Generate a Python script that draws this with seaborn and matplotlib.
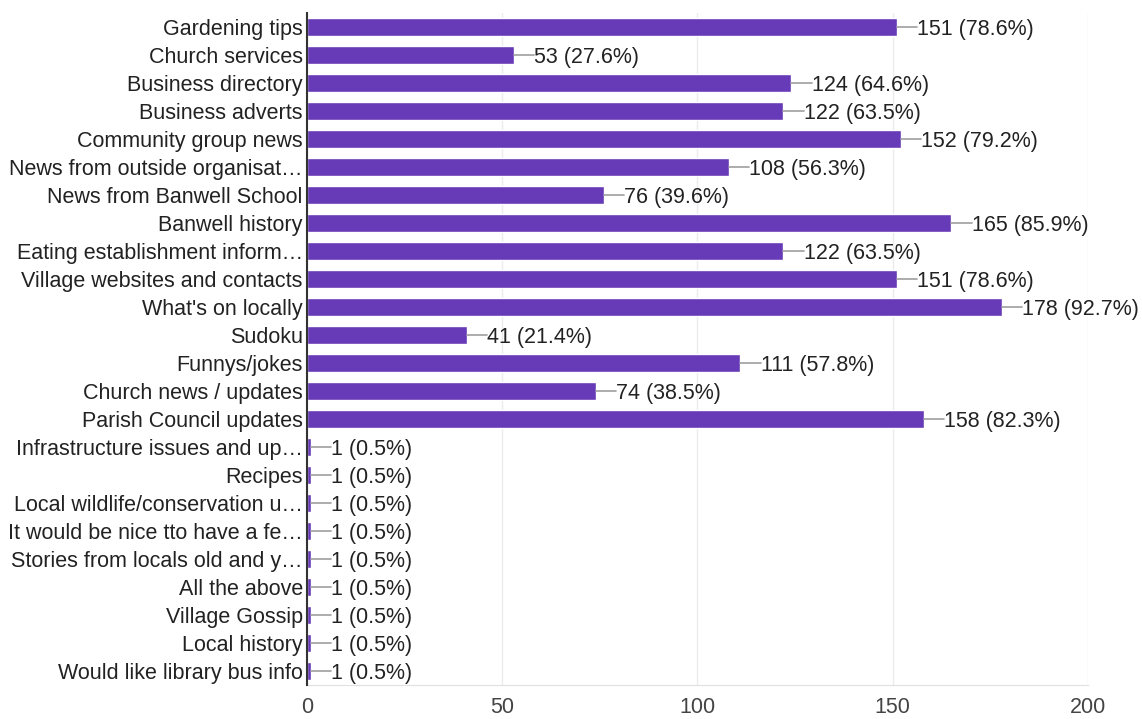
import matplotlib
matplotlib.use("Agg")
import matplotlib.pyplot as plt
import seaborn as sns
import pandas as pd

categories = [
    "Gardening tips", "Church services", "Business directory", "Business adverts",
    "Community group news", "News from outside organisat\u2026", "News from Banwell School",
    "Banwell history", "Eating establishment inform\u2026", "Village websites and contacts",
    "What's on locally", "Sudoku", "Funnys/jokes", "Church news / updates",
    "Parish Council updates", "Infrastructure issues and up\u2026", "Recipes",
    "Local wildlife/conservation u\u2026", "It would be nice tto have a fe\u2026",
    "Stories from locals old and y\u2026", "All the above", "Village Gossip",
    "Local history", "Would like library bus info",
]
counts = [151, 53, 124, 122, 152, 108, 76, 165, 122, 151, 178, 41, 111, 74, 158,
          1, 1, 1, 1, 1, 1, 1, 1, 1]
percents = [78.6, 27.6, 64.6, 63.5, 79.2, 56.3, 39.6, 85.9, 63.5, 78.6, 92.7, 21.4,
            57.8, 38.5, 82.3, 0.5, 0.5, 0.5, 0.5, 0.5, 0.5, 0.5, 0.5, 0.5]
xticks = [0, 50, 100, 150, 200]

df = pd.DataFrame({"cat": categories, "count": counts})

sns.set_style("white")
plt.rcParams["font.family"] = ["Liberation Sans", "DejaVu Sans"]

fig = plt.figure(figsize=(11.42, 7.19), dpi=100)
ax = fig.add_axes([0.2688, 0.0473, 0.9527 - 0.2688, 0.982 - 0.0473])

sns.barplot(data=df, x="count", y="cat", orient="h", color="#673AB7",
            saturation=1, width=0.64, ax=ax, zorder=3)

ax.set_xlim(0, 200)
ax.set_ylim(len(categories) - 0.5, -0.5)
ax.set_xticks(xticks)
ax.set_xticklabels([str(t) for t in xticks])
ax.set_xlabel("")
ax.set_ylabel("")
ax.grid(axis="x", color="#ebebeb", linewidth=1, zorder=0)
ax.grid(axis="y", visible=False)

for s in ["top", "right"]:
    ax.spines[s].set_visible(False)
ax.spines["bottom"].set_color("#e0e0e0")
ax.spines["left"].set_color("#333333")
ax.spines["left"].set_linewidth(1.5)
ax.spines["left"].set_zorder(5)

ax.tick_params(axis="y", length=0, pad=3, labelsize=15.5, labelcolor="#222222")
for lbl in ax.get_yticklabels():
    lbl.set_verticalalignment("center_baseline")
ax.tick_params(axis="x", length=0, pad=9, labelsize=15.5, labelcolor="#444444")

for i, (c, p) in enumerate(zip(counts, percents)):
    ax.plot([c, c + 5.2], [i, i], color="#9e9e9e", linewidth=1.2, zorder=4)
    ax.text(c + 5.2, i, f"{c} ({p}%)", va="center_baseline", ha="left",
            fontsize=15.5, color="#222222", zorder=4)

fig.savefig("out.png", dpi=100)
